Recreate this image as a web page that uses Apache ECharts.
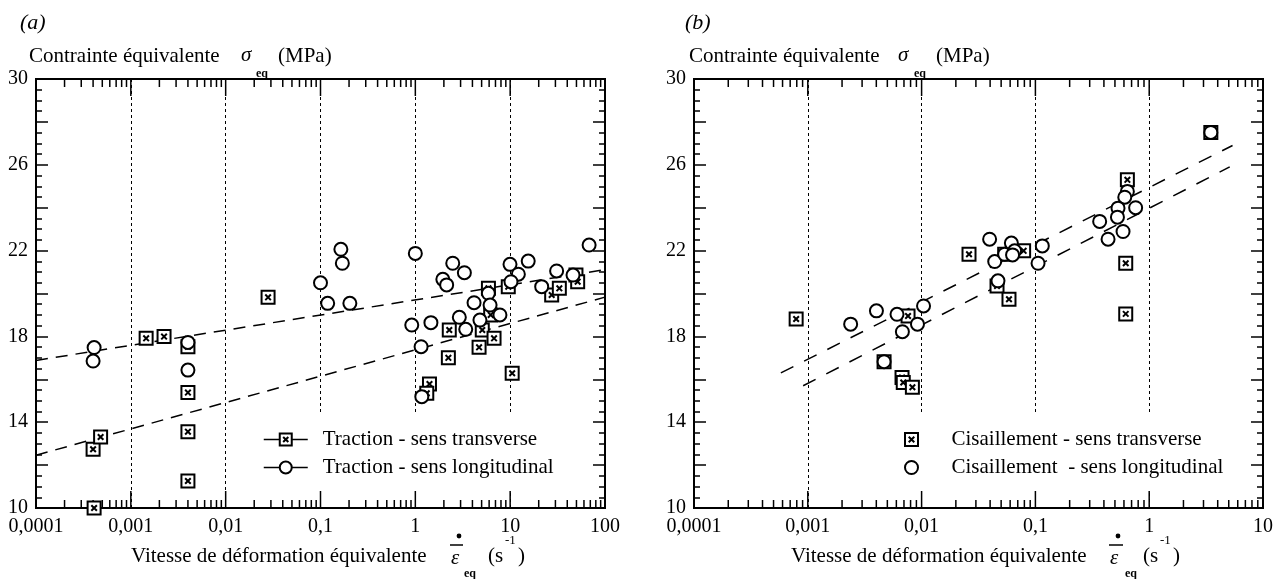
<!DOCTYPE html>
<html><head><meta charset="utf-8">
<script src="https://cdn.jsdelivr.net/npm/echarts@6.0.0/dist/echarts.min.js"></script>
<style>html,body{margin:0;padding:0;background:#fff}#c{width:1283px;height:579px}</style>
</head><body><div id="c"></div>
<script>
// ---------- tick values / labels ----------
const xDecadesA = [0.0001, 0.001, 0.01, 0.1, 1, 10, 100];
const xTickLabelsA = ['0,0001', '0,001', '0,01', '0,1', '1', '10', '100'];
const xDecadesB = [0.0001, 0.001, 0.01, 0.1, 1, 10];
const xTickLabelsB = ['0,0001', '0,001', '0,01', '0,1', '1', '10'];
const minorMultipliers = [2, 3, 4, 5, 6, 7, 8, 9];
const yTickLabels = ['10', '14', '18', '22', '26', '30'];

// ---------- (a) Traction ----------
const tractionTransverse = [
  [0.00041, 10.0], [0.0004, 12.74], [0.00048, 13.31], [0.00145, 17.91], [0.00224, 17.99],
  [0.004, 17.52], [0.004, 15.38], [0.004, 13.56], [0.004, 11.26], [0.028, 19.82],
  [1.41, 15.78], [1.32, 15.35], [2.28, 18.30], [2.23, 17.0], [4.7, 17.49], [5.08, 18.30],
  [6.76, 17.91], [6.23, 19.0], [10.5, 16.28], [27.4, 19.93], [33, 20.24], [49.4, 20.86],
  [51.5, 20.55], [9.55, 20.32], [5.9, 20.24]
];
const tractionLongitudinal = [
  [0.00041, 17.48], [0.0004, 16.85], [0.004, 17.72], [0.004, 16.43], [0.1, 20.5],
  [0.164, 22.06], [0.17, 21.41], [0.119, 19.54], [0.204, 19.54],
  [1.0, 21.87], [2.48, 21.41], [3.29, 20.97], [1.95, 20.66], [2.14, 20.40], [9.96, 21.36],
  [15.5, 21.51], [12.2, 20.9], [10.2, 20.55], [30.9, 21.05], [21.5, 20.32], [68, 22.26],
  [4.16, 19.57], [5.89, 20.01], [6.14, 19.46], [7.8, 19.0], [2.91, 18.89], [4.8, 18.76],
  [3.4, 18.33], [0.917, 18.53], [1.46, 18.64], [1.15, 17.52], [1.17, 15.19], [46, 20.86]
];
const trendTractionUpper = [[0.0001, 16.88], [100, 21.11]];
const trendTractionLower = [[0.0001, 12.46], [100, 19.83]];

// ---------- (b) Cisaillement ----------
const cisTransverse = [
  [0.00079, 18.81], [0.0076, 18.95], [0.00468, 16.82], [0.00673, 16.08], [0.0069, 15.85],
  [0.0083, 15.63], [0.0261, 21.83], [0.0537, 21.83], [0.0788, 21.99], [0.046, 20.35],
  [0.0586, 19.73], [3.48, 27.51], [0.643, 25.30], [0.622, 21.41], [0.622, 19.05]
];
const cisLongitudinal = [
  [0.00238, 18.57], [0.00401, 19.19], [0.00608, 19.03], [0.0104, 19.42], [0.0092, 18.57],
  [0.00678, 18.22], [0.00468, 16.82], [0.0396, 22.53], [0.0439, 21.49], [0.0537, 21.83],
  [0.0615, 22.35], [0.0657, 21.99], [0.063, 21.8], [0.115, 22.22], [0.1055, 21.41],
  [0.0469, 20.59], [3.48, 27.51], [0.643, 24.76], [0.61, 24.49], [0.76, 24.0],
  [0.532, 23.98], [0.526, 23.56], [0.367, 23.36], [0.435, 22.53], [0.589, 22.89]
];
const trendCisUpper = [[0.00058, 16.3], [5.4, 26.9]];
const trendCisLower = [[0.00091, 15.7], [5.1, 25.9]];

// ---------- styling ----------
const FONT = "'Liberation Serif', 'DejaVu Serif', serif";
const SQX = 'path://M0,0L14,0L14,14L0,14Z M4,4L10,10 M10,4L4,10';
const markStyle = { color: '#fff', borderColor: '#000', borderWidth: 2, opacity: 1 };

function minorOf(decades) {
  const out = [];
  decades.slice(0, -1).forEach(d => minorMultipliers.forEach(m => out.push(d * m)));
  return out;
}
function tickSeries(gi, values, len) {
  return {
    type: 'custom', xAxisIndex: gi, yAxisIndex: gi * 2, silent: true, z: 3, clip: false,
    data: values.map(v => [v, 20]),
    renderItem: (p, api) => {
      const v = api.value(0);
      const b = api.coord([v, 10]);
      const t = api.coord([v, 30]);
      const st = { stroke: '#000', lineWidth: 1.5 };
      return { type: 'group', children: [
        { type: 'line', shape: { x1: b[0], y1: b[1], x2: b[0], y2: b[1] - len }, style: st },
        { type: 'line', shape: { x1: t[0], y1: t[1], x2: t[0], y2: t[1] + len }, style: st }
      ] };
    }
  };
}
function xAxisDef(gi, decades, labels) {
  return {
    type: 'log', logBase: 10, gridIndex: gi, min: decades[0], max: decades[decades.length - 1],
    axisLine: { show: false }, axisTick: { show: false },
    splitLine: { show: true, lineStyle: { color: '#000', type: [3, 3], width: 1 } },
    axisLabel: {
      fontSize: 20, fontFamily: FONT, color: '#000', margin: 9,
      showMinLabel: true, showMaxLabel: true,
      formatter: v => {
        const i = decades.findIndex(d => Math.abs(Math.log10(d) - Math.log10(v)) < 1e-6);
        return i >= 0 ? labels[i] : '';
      }
    }
  };
}
function yAxisDef(gi, pos) {
  return {
    type: 'value', gridIndex: gi, position: pos, min: 10, max: 30, interval: 2,
    axisLine: { show: false },
    axisTick: { show: true, inside: true, length: 12, lineStyle: { color: '#000', width: 1.5 } },
    minorTick: { show: true, splitNumber: 4, length: 6, lineStyle: { color: '#000', width: 1.5 } },
    splitLine: { show: false },
    axisLabel: {
      show: pos === 'left', fontSize: 20, fontFamily: FONT, color: '#000', margin: 8,
      formatter: v => yTickLabels.includes(String(v)) ? String(v) : ''
    }
  };
}
function trend(gi, data, dash) {
  return { type: 'line', xAxisIndex: gi, yAxisIndex: gi * 2, data, symbol: 'none', silent: true, z: 2,
    lineStyle: { color: '#000', width: 1.5, type: dash } };
}

const T = (text, x, y, size, extra) => ({
  type: 'text', z: 100, style: Object.assign({ text, x, y, fontSize: size, fontFamily: FONT,
    fill: '#000', verticalAlign: 'middle', align: 'left' }, extra || {})
});
const L = (x1, y1, x2, y2) => ({ type: 'line', z: 100, shape: { x1, y1, x2, y2 }, style: { stroke: '#000', lineWidth: 1.5 } });
const D = (cx, cy) => ({ type: 'circle', z: 100, shape: { cx, cy, r: 2.4 }, style: { fill: '#000' } });

const graphics = [
  T('(a)', 20, 23, 22, { fontStyle: 'italic' }),
  T('Contrainte équivalente', 29, 56, 21),
  T('σ', 241, 55, 21, { fontStyle: 'italic' }),
  T('eq', 256, 74, 12, { fontWeight: 'bold' }),
  T('(MPa)', 278, 56, 21),
  T('Vitesse de déformation équivalente', 131, 556, 21),
  T('ε', 451, 558, 21, { fontStyle: 'italic' }),
  L(450, 545, 463, 545), D(459, 536),
  T('eq', 464, 574, 12, { fontWeight: 'bold' }),
  T('(s', 488, 556, 21),
  T('-1', 505, 541, 13),
  T(')', 518, 556, 21),

  T('(b)', 685, 23, 22, { fontStyle: 'italic' }),
  T('Contrainte équivalente', 689, 56, 21),
  T('σ', 898, 55, 21, { fontStyle: 'italic' }),
  T('eq', 914, 74, 12, { fontWeight: 'bold' }),
  T('(MPa)', 936, 56, 21),
  T('Vitesse de déformation équivalente', 791, 556, 21),
  T('ε', 1110, 558, 21, { fontStyle: 'italic' }),
  L(1109, 545, 1123, 545), D(1118, 536),
  T('eq', 1125, 574, 12, { fontWeight: 'bold' }),
  T('(s', 1143, 556, 21),
  T('-1', 1160, 541, 13),
  T(')', 1173, 556, 21)
];

const chart = echarts.init(document.getElementById('c'), null, { renderer: 'canvas' });
chart.setOption({
  animation: false,
  backgroundColor: '#fff',
  grid: [
    { left: 36, top: 79, width: 569, height: 429, show: true, borderColor: '#000', borderWidth: 2, backgroundColor: 'transparent' },
    { left: 694, top: 79, width: 569, height: 429, show: true, borderColor: '#000', borderWidth: 2, backgroundColor: 'transparent' }
  ],
  xAxis: [xAxisDef(0, xDecadesA, xTickLabelsA), xAxisDef(1, xDecadesB, xTickLabelsB)],
  yAxis: [yAxisDef(0, 'left'), yAxisDef(0, 'right'), yAxisDef(1, 'left'), yAxisDef(1, 'right')],
  legend: [
    {
      data: ['Traction - sens transverse', 'Traction - sens longitudinal'],
      orient: 'vertical', left: 259, top: 414, itemWidth: 44, itemHeight: 15, itemGap: 7,
      padding: [15, 36, 12, 4], backgroundColor: '#fff', selectedMode: false,
      textStyle: { fontSize: 21, fontFamily: FONT, color: '#000', padding: [0, 0, 0, 10] },
      lineStyle: { color: '#000', width: 1.5, opacity: 1, type: 'solid' }
    },
    {
      data: ['Cisaillement - sens transverse', 'Cisaillement  - sens longitudinal'],
      orient: 'vertical', left: 898, top: 414, itemWidth: 70, itemHeight: 13, itemGap: 7,
      padding: [15, 26, 12, 6], backgroundColor: '#fff', selectedMode: false,
      textStyle: { fontSize: 21, fontFamily: FONT, color: '#000' },
      itemStyle: { opacity: 1 }
    }
  ],
  graphic: graphics,
  series: [
    tickSeries(0, xDecadesA, 17), tickSeries(0, minorOf(xDecadesA), 8),
    tickSeries(1, xDecadesB, 17), tickSeries(1, minorOf(xDecadesB), 8),
    trend(0, trendTractionUpper, [12, 8]), trend(0, trendTractionLower, [12, 8]),
    trend(1, trendCisUpper, [14, 12]), trend(1, trendCisLower, [14, 12]),
    {
      name: 'Traction - sens transverse', type: 'line', xAxisIndex: 0, yAxisIndex: 0,
      data: tractionTransverse, symbol: SQX, symbolSize: 13, symbolKeepAspect: true,
      showSymbol: true, showAllSymbol: true, clip: false, silent: true, z: 5,
      lineStyle: { opacity: 0, width: 0 }, itemStyle: markStyle
    },
    {
      name: 'Traction - sens longitudinal', type: 'line', xAxisIndex: 0, yAxisIndex: 0,
      data: tractionLongitudinal, symbol: 'circle', symbolSize: 13,
      showSymbol: true, showAllSymbol: true, clip: false, silent: true, z: 6,
      lineStyle: { opacity: 0, width: 0 }, itemStyle: markStyle
    },
    {
      name: 'Cisaillement - sens transverse', type: 'scatter', xAxisIndex: 1, yAxisIndex: 2,
      data: cisTransverse, symbol: SQX, symbolSize: 13, symbolKeepAspect: true,
      clip: false, silent: true, z: 5, itemStyle: markStyle
    },
    {
      name: 'Cisaillement  - sens longitudinal', type: 'scatter', xAxisIndex: 1, yAxisIndex: 2,
      data: cisLongitudinal, symbol: 'circle', symbolSize: 13,
      clip: false, silent: true, z: 6, itemStyle: markStyle
    }
  ]
});
</script>
</body></html>
